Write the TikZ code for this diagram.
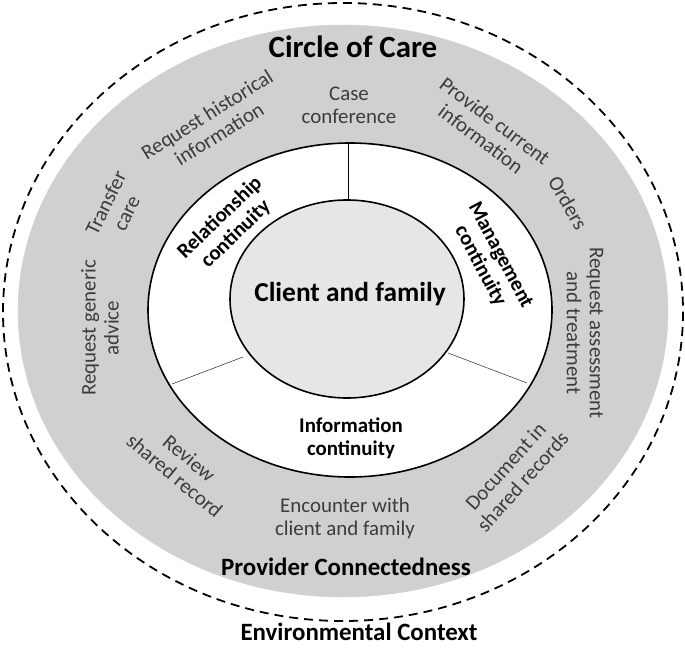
\documentclass[tikz,border=0pt]{standalone}
\usepackage{fontspec}
\setmainfont{Carlito}
\usetikzlibrary{positioning}
\definecolor{ringgray}{RGB}{208,208,208}
\definecolor{coregray}{RGB}{230,230,230}
\definecolor{labelgray}{RGB}{60,60,60}
\tikzset{
	act/.style={text=labelgray, align=center, inner sep=0pt, font=\fontsize{21}{23}\selectfont},
	cont/.style={align=center, inner sep=0pt, font=\bfseries\fontsize{21}{23}\selectfont},
	heading/.style={inner sep=0pt, font=\bfseries\fontsize{25}{27}\selectfont}
}
\begin{document}
\begin{tikzpicture}[x=1bp, y=-1bp]
	\useasboundingbox (0,0) rectangle (685,649);
	\draw[line width=1.8bp, dash pattern=on 9bp off 6bp] (343,312) ellipse [x radius=340, y radius=309];
	\draw[ringgray, fill=ringgray] (343,311) ellipse [x radius=325, y radius=286];
	\draw[line width=1.6bp, fill=white] (350,310) ellipse [x radius=202, y radius=167];
	\draw[line width=1.6bp, fill=coregray] (347,299) ellipse [x radius=117, y radius=99];
	
	\draw[thin] (348,143) -- (348,200);
	\draw[thin] (172,384) -- (243,357);
	\draw[thin] (448,353) -- (527,383);
	
	\node[heading, font=\bfseries\fontsize{31}{33}\selectfont] (care) at (353,47) {Circle of Care};
	\node[heading, font=\bfseries\fontsize{27.5}{29}\selectfont] (client) at (350,294) {Client and family};
	\node[heading] (connect) at (346,567) {Provider Connectedness};
	\node[heading] (context) at (359,632) {Environmental Context};
	
	\node[cont, rotate=44] (relation) at (228,226) {Relationship\\continuity};
	\node[cont, rotate=-62] (manage) at (490,261) {Management\\continuity};
	\node[cont] (inform) at (351,438) {Information\\continuity};
	
	\node[act] (conference) at (349,105) {Case\\conference};
	\node[act, rotate=32] (history) at (213,124) {Request historical\\information};
	\node[act, rotate=-37] (current) at (488,130) {Provide current\\information};
	\node[act, rotate=64] (transfer) at (116,208) {Transfer\\care};
	\node[act, rotate=-60] (orders) at (568,203) {Orders};
	\node[act, rotate=90] (advice) at (100,328) {Request generic\\advice};
	\node[act, rotate=-90] (assess) at (585,333) {Request assessment\\and treatment};
	\node[act, rotate=-40] (review) at (182,467) {Review\\shared record};
	\node[act] (encounter) at (345,518) {Encounter with\\client and family};
	\node[act, rotate=48] (document) at (514,474) {Document in\\shared records};
\end{tikzpicture}
\end{document}
